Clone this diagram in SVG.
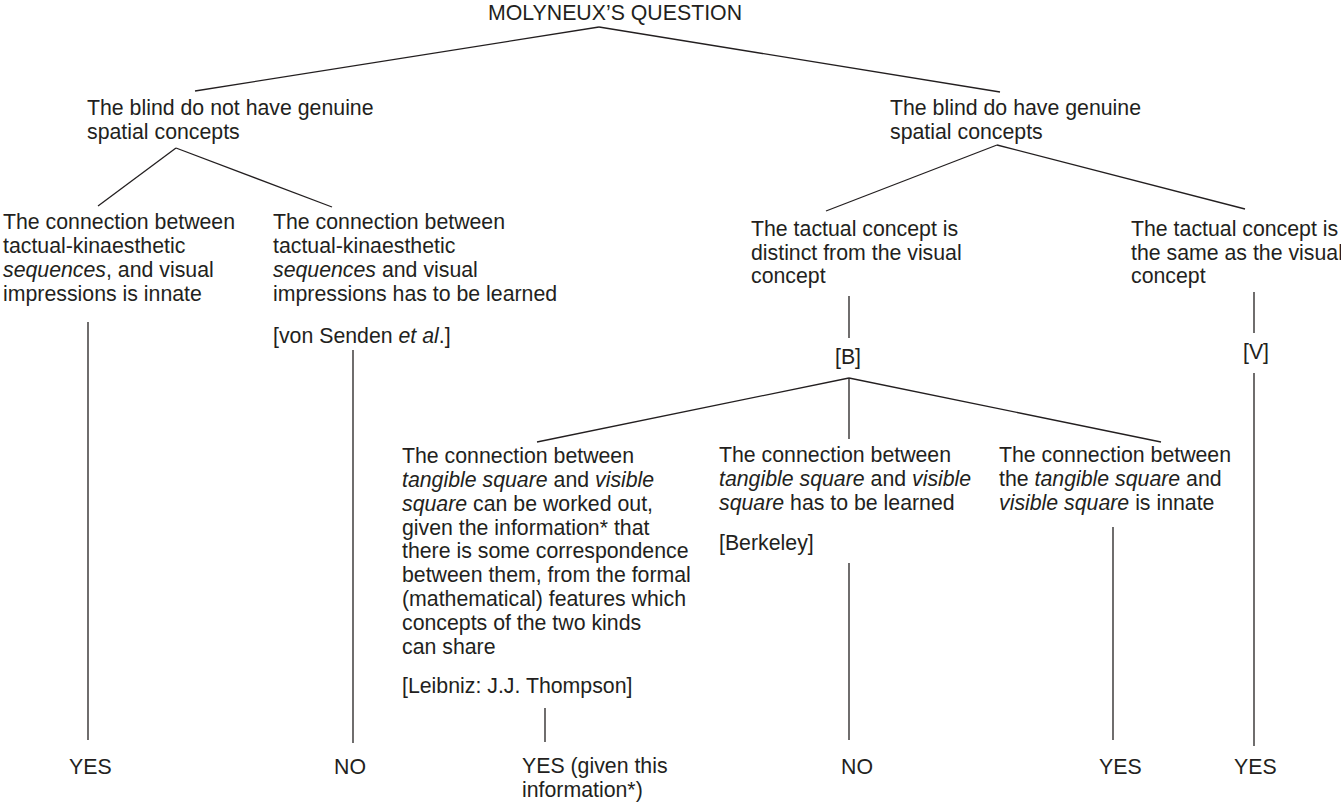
<svg xmlns="http://www.w3.org/2000/svg" width="1341" height="803" viewBox="0 0 1341 803">
<style>
text{font-family:"Liberation Sans",Arial,sans-serif;font-size:21.3px;fill:#231f20}
.i{font-style:italic}
.c line{stroke:#231f20;stroke-width:1.3;fill:none}
</style>
<rect width="1341" height="803" fill="#fff"/>
<g class="c" id="connectors">
<line x1="599" y1="27" x2="195" y2="91"/>
<line x1="599" y1="27" x2="1000" y2="92"/>
<line x1="176" y1="148" x2="98" y2="206"/>
<line x1="176" y1="148" x2="332" y2="207"/>
<line x1="997" y1="145" x2="826" y2="211"/>
<line x1="997" y1="145" x2="1245" y2="209"/>
<line x1="88" y1="322" x2="88" y2="740"/>
<line x1="353" y1="350" x2="353" y2="743"/>
<line x1="849" y1="296" x2="849" y2="338"/>
<line x1="849" y1="378" x2="537" y2="442"/>
<line x1="849" y1="378" x2="849" y2="439"/>
<line x1="849" y1="378" x2="1161" y2="442"/>
<line x1="1254" y1="292" x2="1254" y2="333"/>
<line x1="1254" y1="373" x2="1254" y2="746"/>
<line x1="545" y1="708" x2="545" y2="742"/>
<line x1="849" y1="563" x2="849" y2="740"/>
<line x1="1113" y1="527" x2="1113" y2="740"/>
</g>
<g id="title"><text x="488" y="20">MOLYNEUX’S QUESTION</text></g>
<g id="not-genuine"><text x="87" y="115">The blind do not have genuine</text><text x="87" y="139">spatial concepts</text></g>
<g id="genuine"><text x="890" y="115">The blind do have genuine</text><text x="890" y="139">spatial concepts</text></g>
<g id="seq-innate">
<text x="3" y="229">The connection between</text>
<text x="3" y="253">tactual-kinaesthetic</text>
<text x="3" y="277"><tspan class="i">sequences</tspan>, and visual</text>
<text x="3" y="301">impressions is innate</text>
</g>
<g id="seq-learned">
<text x="273" y="229">The connection between</text>
<text x="273" y="253">tactual-kinaesthetic</text>
<text x="273" y="277"><tspan class="i">sequences</tspan> and visual</text>
<text x="273" y="301">impressions has to be learned</text>
<text x="273" y="343">[von Senden <tspan class="i">et al</tspan>.]</text>
</g>
<g id="distinct">
<text x="751" y="236">The tactual concept is</text>
<text x="751" y="260">distinct from the visual</text>
<text x="751" y="283">concept</text>
</g>
<g id="same">
<text x="1131" y="236">The tactual concept is</text>
<text x="1131" y="260">the same as the visual</text>
<text x="1131" y="283">concept</text>
</g>
<g id="B"><text x="835" y="364">[B]</text></g>
<g id="V"><text x="1243" y="359">[V]</text></g>
<g id="worked-out">
<text x="402" y="463">The connection between</text>
<text x="402" y="487"><tspan class="i">tangible square</tspan> and <tspan class="i">visible</tspan></text>
<text x="402" y="511"><tspan class="i">square</tspan> can be worked out,</text>
<text x="402" y="535">given the information* that</text>
<text x="402" y="558">there is some correspondence</text>
<text x="402" y="582">between them, from the formal</text>
<text x="402" y="606">(mathematical) features which</text>
<text x="402" y="630">concepts of the two kinds</text>
<text x="402" y="654">can share</text>
<text x="402" y="693">[Leibniz: J.J. Thompson]</text>
</g>
<g id="sq-learned">
<text x="719" y="462">The connection between</text>
<text x="719" y="486"><tspan class="i">tangible square</tspan> and <tspan class="i">visible</tspan></text>
<text x="719" y="510"><tspan class="i">square</tspan> has to be learned</text>
<text x="719" y="550">[Berkeley]</text>
</g>
<g id="sq-innate">
<text x="999" y="462">The connection between</text>
<text x="999" y="486">the <tspan class="i">tangible square</tspan> and</text>
<text x="999" y="510"><tspan class="i">visible square</tspan> is innate</text>
</g>
<g id="ans1"><text x="69" y="774">YES</text></g>
<g id="ans2"><text x="334" y="774">NO</text></g>
<g id="ans3"><text x="522" y="773">YES (given this</text><text x="522" y="797">information*)</text></g>
<g id="ans4"><text x="841" y="774">NO</text></g>
<g id="ans5"><text x="1099" y="774">YES</text></g>
<g id="ans6"><text x="1234" y="774">YES</text></g>
</svg>
